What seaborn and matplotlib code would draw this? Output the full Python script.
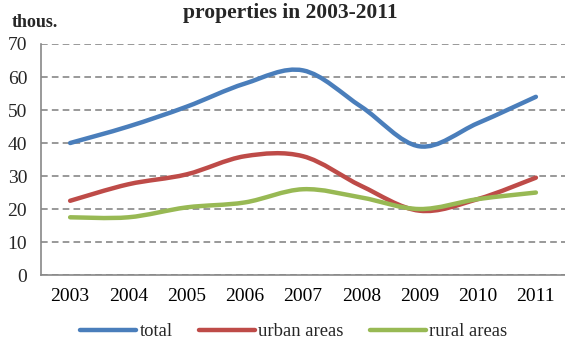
import matplotlib
matplotlib.use("Agg")
import matplotlib.pyplot as plt
from matplotlib.path import Path
from matplotlib.patches import PathPatch
from matplotlib.lines import Line2D
import seaborn as sns

years = ["2003", "2004", "2005", "2006", "2007", "2008", "2009", "2010", "2011"]
total = [40, 45, 51, 58, 62, 51, 39, 46, 54]
urban = [22.5, 27.5, 30.5, 36, 36, 27, 19.5, 23, 29.5]
rural = [17.5, 17.5, 20.5, 22, 26, 23.5, 20, 23, 25]

series = [("total", total, "#4A7EBB"),
          ("urban areas", urban, "#BE4B48"),
          ("rural areas", rural, "#98B954")]

sns.set_theme(style="white")
plt.rcParams["font.family"] = ["Liberation Serif", "DejaVu Serif"]


def smooth_path(ys):
    # excel-like smoothed line: catmull-rom as cubic bezier segments
    xs = list(range(len(ys)))
    pts = list(zip(xs, ys))
    verts = [pts[0]]
    codes = [Path.MOVETO]
    n = len(pts)
    for i in range(n - 1):
        p0 = pts[i - 1] if i > 0 else pts[i]
        p1 = pts[i]
        p2 = pts[i + 1]
        p3 = pts[i + 2] if i + 2 < n else pts[i + 1]
        c1 = (p1[0] + (p2[0] - p0[0]) / 6, p1[1] + (p2[1] - p0[1]) / 6)
        c2 = (p2[0] - (p3[0] - p1[0]) / 6, p2[1] - (p3[1] - p1[1]) / 6)
        verts += [c1, c2, p2]
        codes += [Path.CURVE4] * 3
    return Path(verts, codes)


fig = plt.figure(figsize=(5.65, 3.4), dpi=100)
ax = fig.add_axes([0.0726, 0.191, 0.9274, 0.6796])

handles = []
for name, vals, col in series:
    ax.add_patch(PathPatch(smooth_path(vals), facecolor="none", edgecolor=col,
                           lw=3.2, capstyle="round", zorder=3))
    handles.append(Line2D([], [], color=col, lw=3.2, solid_capstyle="round", label=name))

ax.set_xlim(-0.5, len(years) - 0.5)
ax.set_ylim(0, 70)
ax.set_yticks(range(0, 71, 10))
ax.set_xticks(range(len(years)))
ax.set_xticklabels(years)
ax.set_xticks([i - 0.5 for i in range(len(years) + 1)], minor=True)
ax.tick_params(axis="x", which="major", length=0, pad=9, labelsize=14, colors="black")
ax.tick_params(axis="x", which="minor", length=5, width=1, color="#888888", direction="out")
ax.tick_params(axis="y", length=5, width=1, color="#888888", direction="out", pad=5, labelsize=14)
ax.grid(axis="y", color="#888888", linestyle=(0, (4, 2.5)), lw=1.2)
ax.set_axisbelow(True)
sns.despine(ax=ax, top=True, right=True)
for sp in ["left", "bottom"]:
    ax.spines[sp].set_color("#888888")
    ax.spines[sp].set_linewidth(1.2)

fig.text(0.513, 0.962, "properties in 2003-2011", ha="center", va="center",
         fontsize=15.5, fontweight="bold")
fig.text(0.021, 0.935, "thous.", ha="left", va="center", fontsize=13, fontweight="bold")

fig.legend(handles=handles, loc="center", bbox_to_anchor=(0.52, 0.025), ncol=3,
           frameon=False, fontsize=13.4, handlelength=3.0, handletextpad=0.2,
           columnspacing=1.4)

fig.savefig("out.png", dpi=100)
